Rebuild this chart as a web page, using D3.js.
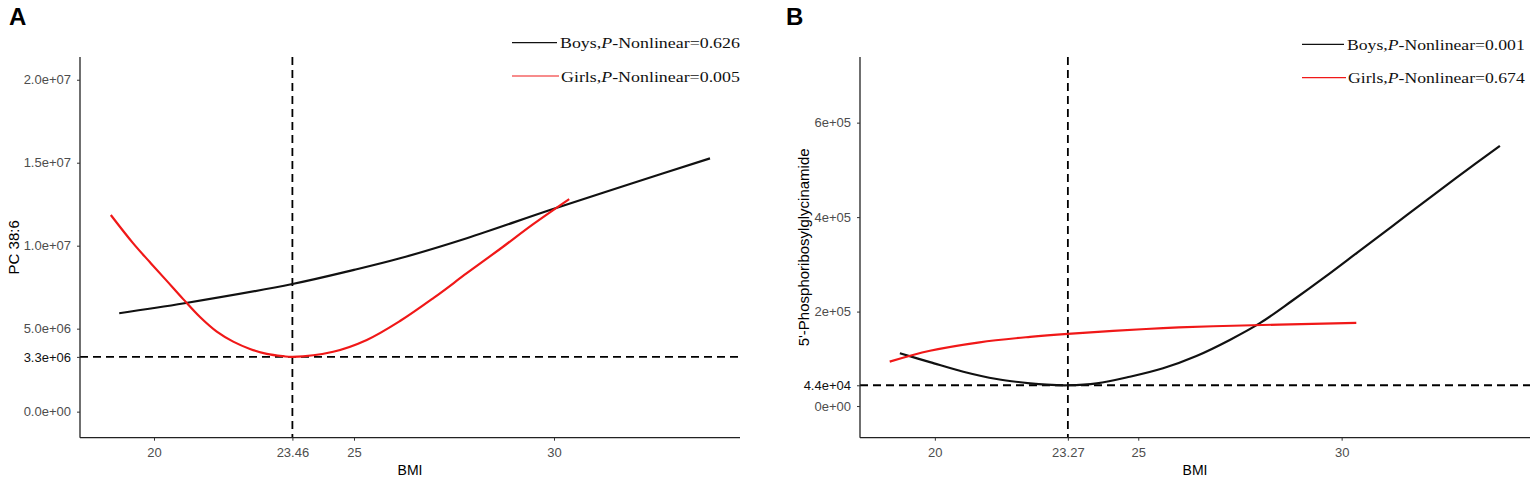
<!DOCTYPE html>
<html>
<head>
<meta charset="utf-8">
<script src="https://cdn.jsdelivr.net/npm/d3@7"></script>
<style>
  body { margin: 0; background: #fff; }
  svg { display: block; }
  .tick text { font-family: "Liberation Sans", Arial, sans-serif; font-size: 13px; fill: #4d4d4d; }
  .tick line { stroke: #333; }
  .domain { stroke: #222; stroke-width: 1.3px; }
  .title { font-family: "Liberation Sans", Arial, sans-serif; fill: #000; }
  .legend { font-family: "Liberation Serif", "Times New Roman", serif; font-size: 15px; fill: #111; }
</style>
</head>
<body>
<div id="chart"></div>
<script>
// ---- data (BMI, value) ----
var boysA = [[19.13, 5.93e6], [20.76, 6.53e6], [23.46, 7.69e6], [25.0, 8.54e6], [26.15, 9.24e6],
             [27.82, 10.45e6], [29.9, 12.15e6], [31.9, 13.72e6], [33.9, 15.26e6]];
var girlsA = [[18.92, 11.85e6], [19.48, 10.14e6], [19.9, 9.0e6], [20.32, 7.88e6], [20.73, 6.78e6],
              [21.15, 5.7e6], [21.57, 4.82e6], [21.98, 4.22e6], [22.4, 3.78e6], [22.82, 3.48e6],
              [23.23, 3.34e6], [23.46, 3.3e6], [24.48, 3.61e6], [25.32, 4.32e6], [26.15, 5.46e6],
              [27.0, 6.87e6], [27.82, 8.34e6], [28.65, 9.8e6], [29.48, 11.3e6], [30.38, 12.81e6]];
var boysB = [[19.14, 1.117e5], [19.88, 0.93e5], [20.7, 0.727e5], [21.52, 0.572e5], [22.34, 0.481e5],
             [22.75, 0.452e5], [23.27, 0.44e5], [23.98, 0.48e5], [24.79, 0.62e5], [25.61, 0.80e5],
             [26.43, 1.06e5], [27.25, 1.40e5], [28.0, 1.76e5], [28.8, 2.24e5], [29.6, 2.74e5],
             [30.4, 3.26e5], [31.2, 3.78e5], [32.0, 4.30e5], [32.8, 4.82e5], [33.89, 5.51e5]];
var girlsB = [[18.89, 0.94e5], [19.88, 1.17e5], [21.1, 1.35e5], [22.34, 1.465e5], [23.27, 1.53e5],
              [24.38, 1.59e5], [25.61, 1.65e5], [26.84, 1.69e5], [30.36, 1.76e5]];

var xTicks = [20, 25, 30];
var yTicksA = [0, 5e6, 1e7, 1.5e7, 2e7];
var yLabelsA = ["0.0e+00", "5.0e+06", "1.0e+07", "1.5e+07", "2.0e+07"];
var yTicksB = [0, 2e5, 4e5, 6e5];
var yLabelsB = ["0e+00", "2e+05", "4e+05", "6e+05"];

// reference point (BMI at minimum, value at minimum)
var refA = [23.46, 3.3e6], refLabelsA = ["23.46", "3.3e+06"];
var refB = [23.27, 4.4e4], refLabelsB = ["23.27", "4.4e+04"];

var legendA = ["0.626", "0.005"];
var legendB = ["0.001", "0.674"];

var W = 1535, H = 482;
var svg = d3.select("#chart").append("svg").attr("width", W).attr("height", H);

function panel(o) {
  var x = d3.scaleLinear().domain(o.xDomain).range([o.left, o.right]);
  var y = d3.scaleLinear().domain(o.yDomain).range([o.bottom, o.top]);
  var g = svg.append("g");

  // dashed reference lines
  g.append("line")
    .attr("x1", x(o.ref[0])).attr("x2", x(o.ref[0]))
    .attr("y1", o.top).attr("y2", o.bottom)
    .attr("stroke", "#000").attr("stroke-width", 1.8).attr("stroke-dasharray", "8,5");
  g.append("line")
    .attr("x1", o.left).attr("x2", o.right)
    .attr("y1", y(o.ref[1])).attr("y2", y(o.ref[1]))
    .attr("stroke", "#000").attr("stroke-width", 1.8).attr("stroke-dasharray", "8,5");

  // axes
  var xs = xTicks.concat([o.ref[0]]);
  var xAxis = d3.axisBottom(x).tickValues(xs).tickSize(3).tickPadding(7)
    .tickFormat(function (d) { return d === o.ref[0] ? o.refLabels[0] : d; });
  g.append("g").attr("transform", "translate(0," + o.bottom + ")").call(xAxis)
    .call(function (a) { a.select(".domain").attr("d", "M" + o.left + ",0H" + o.right); });

  var ys = o.yTicks.concat([o.ref[1]]);
  var yAxis = d3.axisLeft(y).tickValues(ys).tickSize(3).tickPadding(6)
    .tickFormat(function (d) {
      if (d === o.ref[1]) return o.refLabels[1];
      return o.yLabels[o.yTicks.indexOf(d)];
    });
  var ya = g.append("g").attr("transform", "translate(" + o.left + ",0)").call(yAxis);
  ya.select(".domain").attr("d", "M0," + o.top + "V" + o.bottom);
  ya.selectAll(".tick").filter(function (d) { return d === o.ref[1]; })
    .select("text").style("fill", "#111");

  // curves
  var line = d3.line().x(function (d) { return x(d[0]); }).y(function (d) { return y(d[1]); })
    .curve(d3.curveCatmullRom.alpha(0.5));
  g.append("path").datum(o.boys).attr("d", line)
    .attr("fill", "none").attr("stroke", "#111").attr("stroke-width", 2.2);
  g.append("path").datum(o.girls).attr("d", line)
    .attr("fill", "none").attr("stroke", "#f01818").attr("stroke-width", 2.2);

  // axis titles
  g.append("text").attr("class", "title")
    .attr("x", (o.left + o.right) / 2).attr("y", 475)
    .attr("text-anchor", "middle").style("font-size", "14px").text("BMI");
  g.append("text").attr("class", "title")
    .attr("transform", "translate(" + o.yTitleX + "," + (o.top + o.bottom) / 2 + ") rotate(-90)")
    .attr("text-anchor", "middle").style("font-size", "15px").text(o.yTitle);

  // panel letter
  g.append("text").attr("class", "title")
    .attr("x", o.letterX).attr("y", 25)
    .style("font-size", "24px").style("font-weight", "bold").text(o.letter);

  // legend
  var items = [["Boys", "#111", o.legend[0]], ["Girls", "#f01818", o.legend[1]]];
  items.forEach(function (it, i) {
    var ly = o.legendY[i];
    g.append("line")
      .attr("x1", o.legendX0).attr("x2", o.legendX1 + (i ? 2 : 0))
      .attr("y1", ly).attr("y2", ly)
      .attr("stroke", it[1]).attr("stroke-width", 1.2);
    var t = g.append("text").attr("class", "legend");
    t.append("tspan").text(it[0] + ",");
    t.append("tspan").style("font-style", "italic").text("P");
    t.append("tspan").text("-Nonlinear=" + it[2]);
    var tx = o.legendX1 + (i ? 4 : 3);
    var wNat = t.node().getComputedTextLength();
    var sx = (o.legendEnd - tx) / wNat;
    t.attr("transform", "translate(" + tx + "," + (ly + 5.5) + ") scale(" + sx + ",1)");
  });
}

panel({
  left: 80, right: 740, top: 57, bottom: 437.7,
  xDomain: [18.15, 34.65], yDomain: [-1.57e6, 21.37e6],
  yTicks: yTicksA, yLabels: yLabelsA,
  ref: refA, refLabels: refLabelsA,
  boys: boysA, girls: girlsA,
  yTitle: "PC 38:6", yTitleX: 19,
  letter: "A", letterX: 9,
  legend: legendA, legendY: [42.7, 76], legendX0: 512, legendX1: 557, legendEnd: 740
});

panel({
  left: 860, right: 1530, top: 57, bottom: 437.7,
  xDomain: [18.16, 34.63], yDomain: [-0.67e5, 7.39e5],
  yTicks: yTicksB, yLabels: yLabelsB,
  ref: refB, refLabels: refLabelsB,
  boys: boysB, girls: girlsB,
  yTitle: "5'-Phosphoribosylglycinamide", yTitleX: 809,
  letter: "B", letterX: 786,
  legend: legendB, legendY: [44.3, 77.7], legendX0: 1302, legendX1: 1344, legendEnd: 1525
});
</script>
</body>
</html>
